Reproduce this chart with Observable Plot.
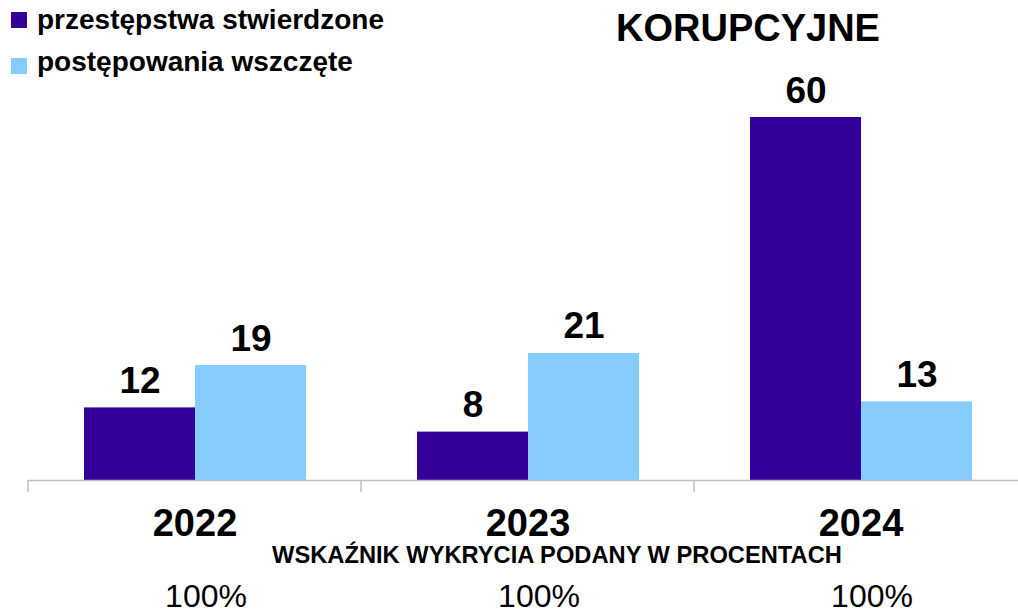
<!DOCTYPE html>
<html><head><meta charset="utf-8">
<script src="https://cdn.jsdelivr.net/npm/d3@7"></script>
<script src="https://cdn.jsdelivr.net/npm/@observablehq/plot@0.6"></script>
<style>
body{margin:0;background:#fff;font-family:"Liberation Sans",Arial,sans-serif;}
#wrap{position:relative;width:1018px;height:611px;overflow:hidden;background:#fff;}
#wrap > svg{position:absolute;left:0;top:0;}
</style></head><body><div id="wrap"></div>
<script>
const years = ["2022", "2023", "2024"];
const seriesNames = ["przestępstwa stwierdzone", "postępowania wszczęte"];
const stwierdzone = [12, 8, 60];
const wszczete = [19, 21, 13];
const wskaznik = ["100%", "100%", "100%"];
const colors = ["#330099", "#87CCFF"];
const title = "KORUPCYJNE";
const caption = "WSKAŹNIK WYKRYCIA PODANY W PROCENTACH";

const data = years.flatMap((year, i) => [
  {year, series: seriesNames[0], value: stwierdzone[i], rate: wskaznik[i]},
  {year, series: seriesNames[1], value: wszczete[i], rate: wskaznik[i]}
]);

const axisTicks = (index, scales, values, dimensions) => {
  const g = d3.create("svg:g");
  const y0 = scales.y(0);
  g.append("line")
    .attr("x1", dimensions.marginLeft).attr("x2", dimensions.marginLeft)
    .attr("y1", y0).attr("y2", y0 + 12)
    .attr("stroke", "#bfbfbf").attr("stroke-width", 1.5);
  return g.node();
};

const chart = Plot.plot({
  width: 1018, height: 611,
  marginTop: 117, marginBottom: 131, marginLeft: 27, marginRight: 0,
  style: {fontFamily: "Liberation Sans, Arial, sans-serif", background: "transparent"},
  facet: {data, x: "year"},
  fx: {domain: years, range: [27.5, 1026.5], padding: 0, axis: null},
  x: {domain: seriesNames, paddingInner: 0, paddingOuter: 0.5, axis: null},
  y: {domain: [0, 60], axis: null},
  color: {domain: seriesNames, range: colors},
  marks: [
    Plot.barY(data, {x: "series", y: "value", fill: "series"}),
    Plot.ruleY([0], {stroke: "#bfbfbf", strokeWidth: 1.5}),
    axisTicks,
    Plot.text(data, {x: "series", y: "value", text: "value", dy: -15, lineAnchor: "bottom", fontSize: 37, fontWeight: "bold", fill: "#000"}),
    Plot.text(data, Plot.selectFirst({text: "year", frameAnchor: "bottom", lineAnchor: "bottom", dy: 55, fontSize: 38, fontWeight: "bold", fill: "#000"})),
    Plot.text(data, Plot.selectFirst({text: "rate", frameAnchor: "bottom", lineAnchor: "bottom", dy: 126, dx: 11, fontSize: 32, fill: "#000"}))
  ]
});
const wrap = document.getElementById("wrap");
wrap.appendChild(chart);

// overlay: legend, title, caption
const ov = d3.select(wrap).append("svg")
  .attr("width", 1018).attr("height", 611)
  .style("font-family", "Liberation Sans, Arial, sans-serif");
seriesNames.forEach((name, i) => {
  ov.append("rect").attr("x", 11).attr("y", 12 + i * 46).attr("width", 16).attr("height", 16).attr("fill", colors[i]);
  ov.append("text").attr("x", 37).attr("y", 29 + i * 42).attr("font-size", 28).attr("font-weight", "bold").text(name);
});
ov.append("text").attr("x", 748).attr("y", 41).attr("text-anchor", "middle").attr("font-size", 38).attr("font-weight", "bold").text(title);
ov.append("text").attr("x", 557).attr("y", 563).attr("text-anchor", "middle").attr("font-size", 23.7).attr("font-weight", "bold").text(caption);
</script></body></html>
